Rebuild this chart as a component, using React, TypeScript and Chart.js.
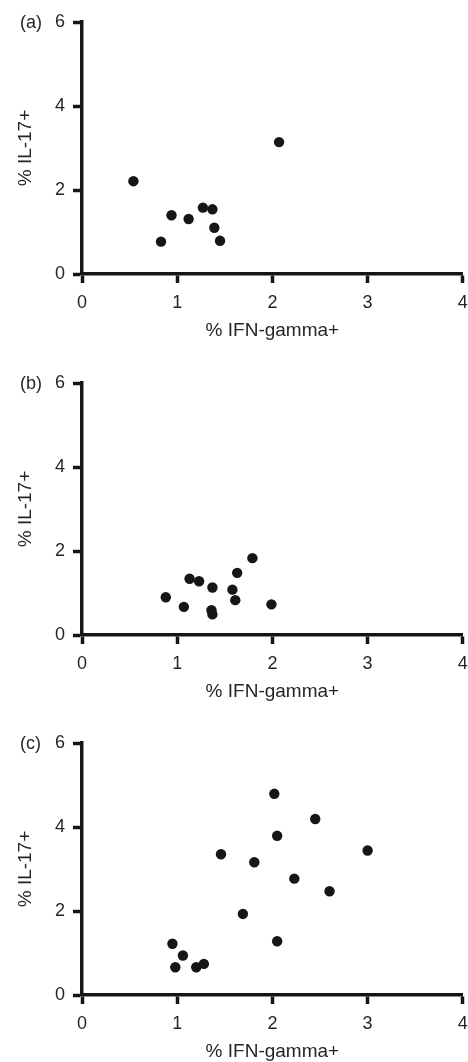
import React, { useEffect, useRef } from "react";
import { Chart, registerables } from "chart.js";

Chart.register(...registerables);

const xTicks = [0, 1, 2, 3, 4];
const yTicks = [0, 2, 4, 6];
const xTitle = "% IFN-gamma+";
const yTitle = "% IL-17+";
const panelLabels = ["(a)", "(b)", "(c)"];

const aX = [0.54, 2.07, 0.94, 1.12, 1.27, 1.37, 1.39, 1.45, 0.83];
const aY = [2.21, 3.14, 1.4, 1.31, 1.58, 1.54, 1.1, 0.79, 0.77];

const bX = [0.88, 1.07, 1.13, 1.23, 1.37, 1.36, 1.37, 1.58, 1.61, 1.63, 1.79, 1.99];
const bY = [0.9, 0.67, 1.34, 1.28, 1.13, 0.59, 0.49, 1.08, 0.83, 1.48, 1.83, 0.73];

const cX = [2.02, 2.45, 2.05, 1.46, 1.81, 3.0, 2.23, 2.6, 1.69, 2.05, 0.95, 1.06, 0.98, 1.2, 1.28];
const cY = [4.79, 4.19, 3.79, 3.35, 3.16, 3.44, 2.77, 2.47, 1.93, 1.28, 1.22, 0.94, 0.66, 0.66, 0.74];

const panelXs = [aX, bX, cX];
const panelYs = [aY, bY, cY];

const INK = "#161616";
const TEXT = "#262626";
const FONT = "'Liberation Sans', Arial, Helvetica, sans-serif";
const W = 468;
const H = 341;
const TOPS = [0, 361, 721];

function Panel({ xs, ys, label, top }: { xs: number[]; ys: number[]; label: string; top: number }) {
  const ref = useRef<HTMLCanvasElement | null>(null);
  useEffect(() => {
    if (!ref.current) return;
    const chart = new Chart(ref.current, {
      type: "scatter",
      data: {
        datasets: [
          {
            data: xs.map((x, i) => ({ x, y: ys[i] })),
            backgroundColor: INK,
            borderWidth: 0,
            pointRadius: 5.2,
            pointHoverRadius: 5.2,
          },
        ],
      },
      options: {
        animation: false,
        responsive: false,
        maintainAspectRatio: false,
        events: [],
        layout: { padding: { top: 22, right: 5, left: 0, bottom: 0 } },
        plugins: { legend: { display: false }, tooltip: { enabled: false } },
        scales: {
          x: {
            type: "linear",
            position: "bottom",
            min: 0,
            max: 4,
            afterBuildTicks: (s: any) => {
              s.ticks = xTicks.map((v) => ({ value: v }));
            },
            afterFit: (s: any) => {
              s.height = 67;
              s.paddingLeft = 0;
              s.paddingRight = 0;
            },
            ticks: {
              padding: 9,
              color: TEXT,
              font: { family: FONT, size: 18 },
              maxRotation: 0,
              autoSkip: false,
            },
            grid: { drawOnChartArea: false, tickLength: 9, tickWidth: 3.5, tickColor: INK },
            border: { display: true, width: 3.5, color: INK },
            title: {
              display: true,
              text: xTitle,
              color: TEXT,
              font: { family: FONT, size: 19 },
              padding: { top: 0, bottom: -1.5 },
            },
          },
          y: {
            type: "linear",
            position: "left",
            min: 0,
            max: 6,
            afterBuildTicks: (s: any) => {
              s.ticks = yTicks.map((v) => ({ value: v }));
            },
            afterFit: (s: any) => {
              s.width = 82;
              s.paddingTop = 0;
              s.paddingBottom = 0;
            },
            ticks: {
              padding: 8,
              color: TEXT,
              font: { family: FONT, size: 18 },
              autoSkip: false,
            },
            grid: { drawOnChartArea: false, tickLength: 9, tickWidth: 3.5, tickColor: INK },
            border: { display: true, width: 3.5, color: INK },
            title: {
              display: true,
              text: yTitle,
              color: TEXT,
              font: { family: FONT, size: 19 },
              padding: { top: 14, bottom: 0 },
            },
          },
        },
      } as any,
    });
    return () => chart.destroy();
  }, [xs, ys]);
  return (
    <div style={{ position: "absolute", left: 0, top, width: W, height: H }}>
      <canvas ref={ref} width={W} height={H} style={{ display: "block", width: W, height: H }} />
      <span
        style={{
          position: "absolute",
          left: 20,
          top: 11,
          fontFamily: FONT,
          fontSize: 18,
          lineHeight: "22px",
          color: TEXT,
        }}
      >
        {label}
      </span>
    </div>
  );
}

export default function App() {
  return (
    <div style={{ position: "absolute", left: 0, top: 0, width: W, height: 1062, background: "#fff" }}>
      {panelLabels.map((lab, i) => (
        <Panel key={lab} xs={panelXs[i]} ys={panelYs[i]} label={lab} top={TOPS[i]} />
      ))}
    </div>
  );
}
